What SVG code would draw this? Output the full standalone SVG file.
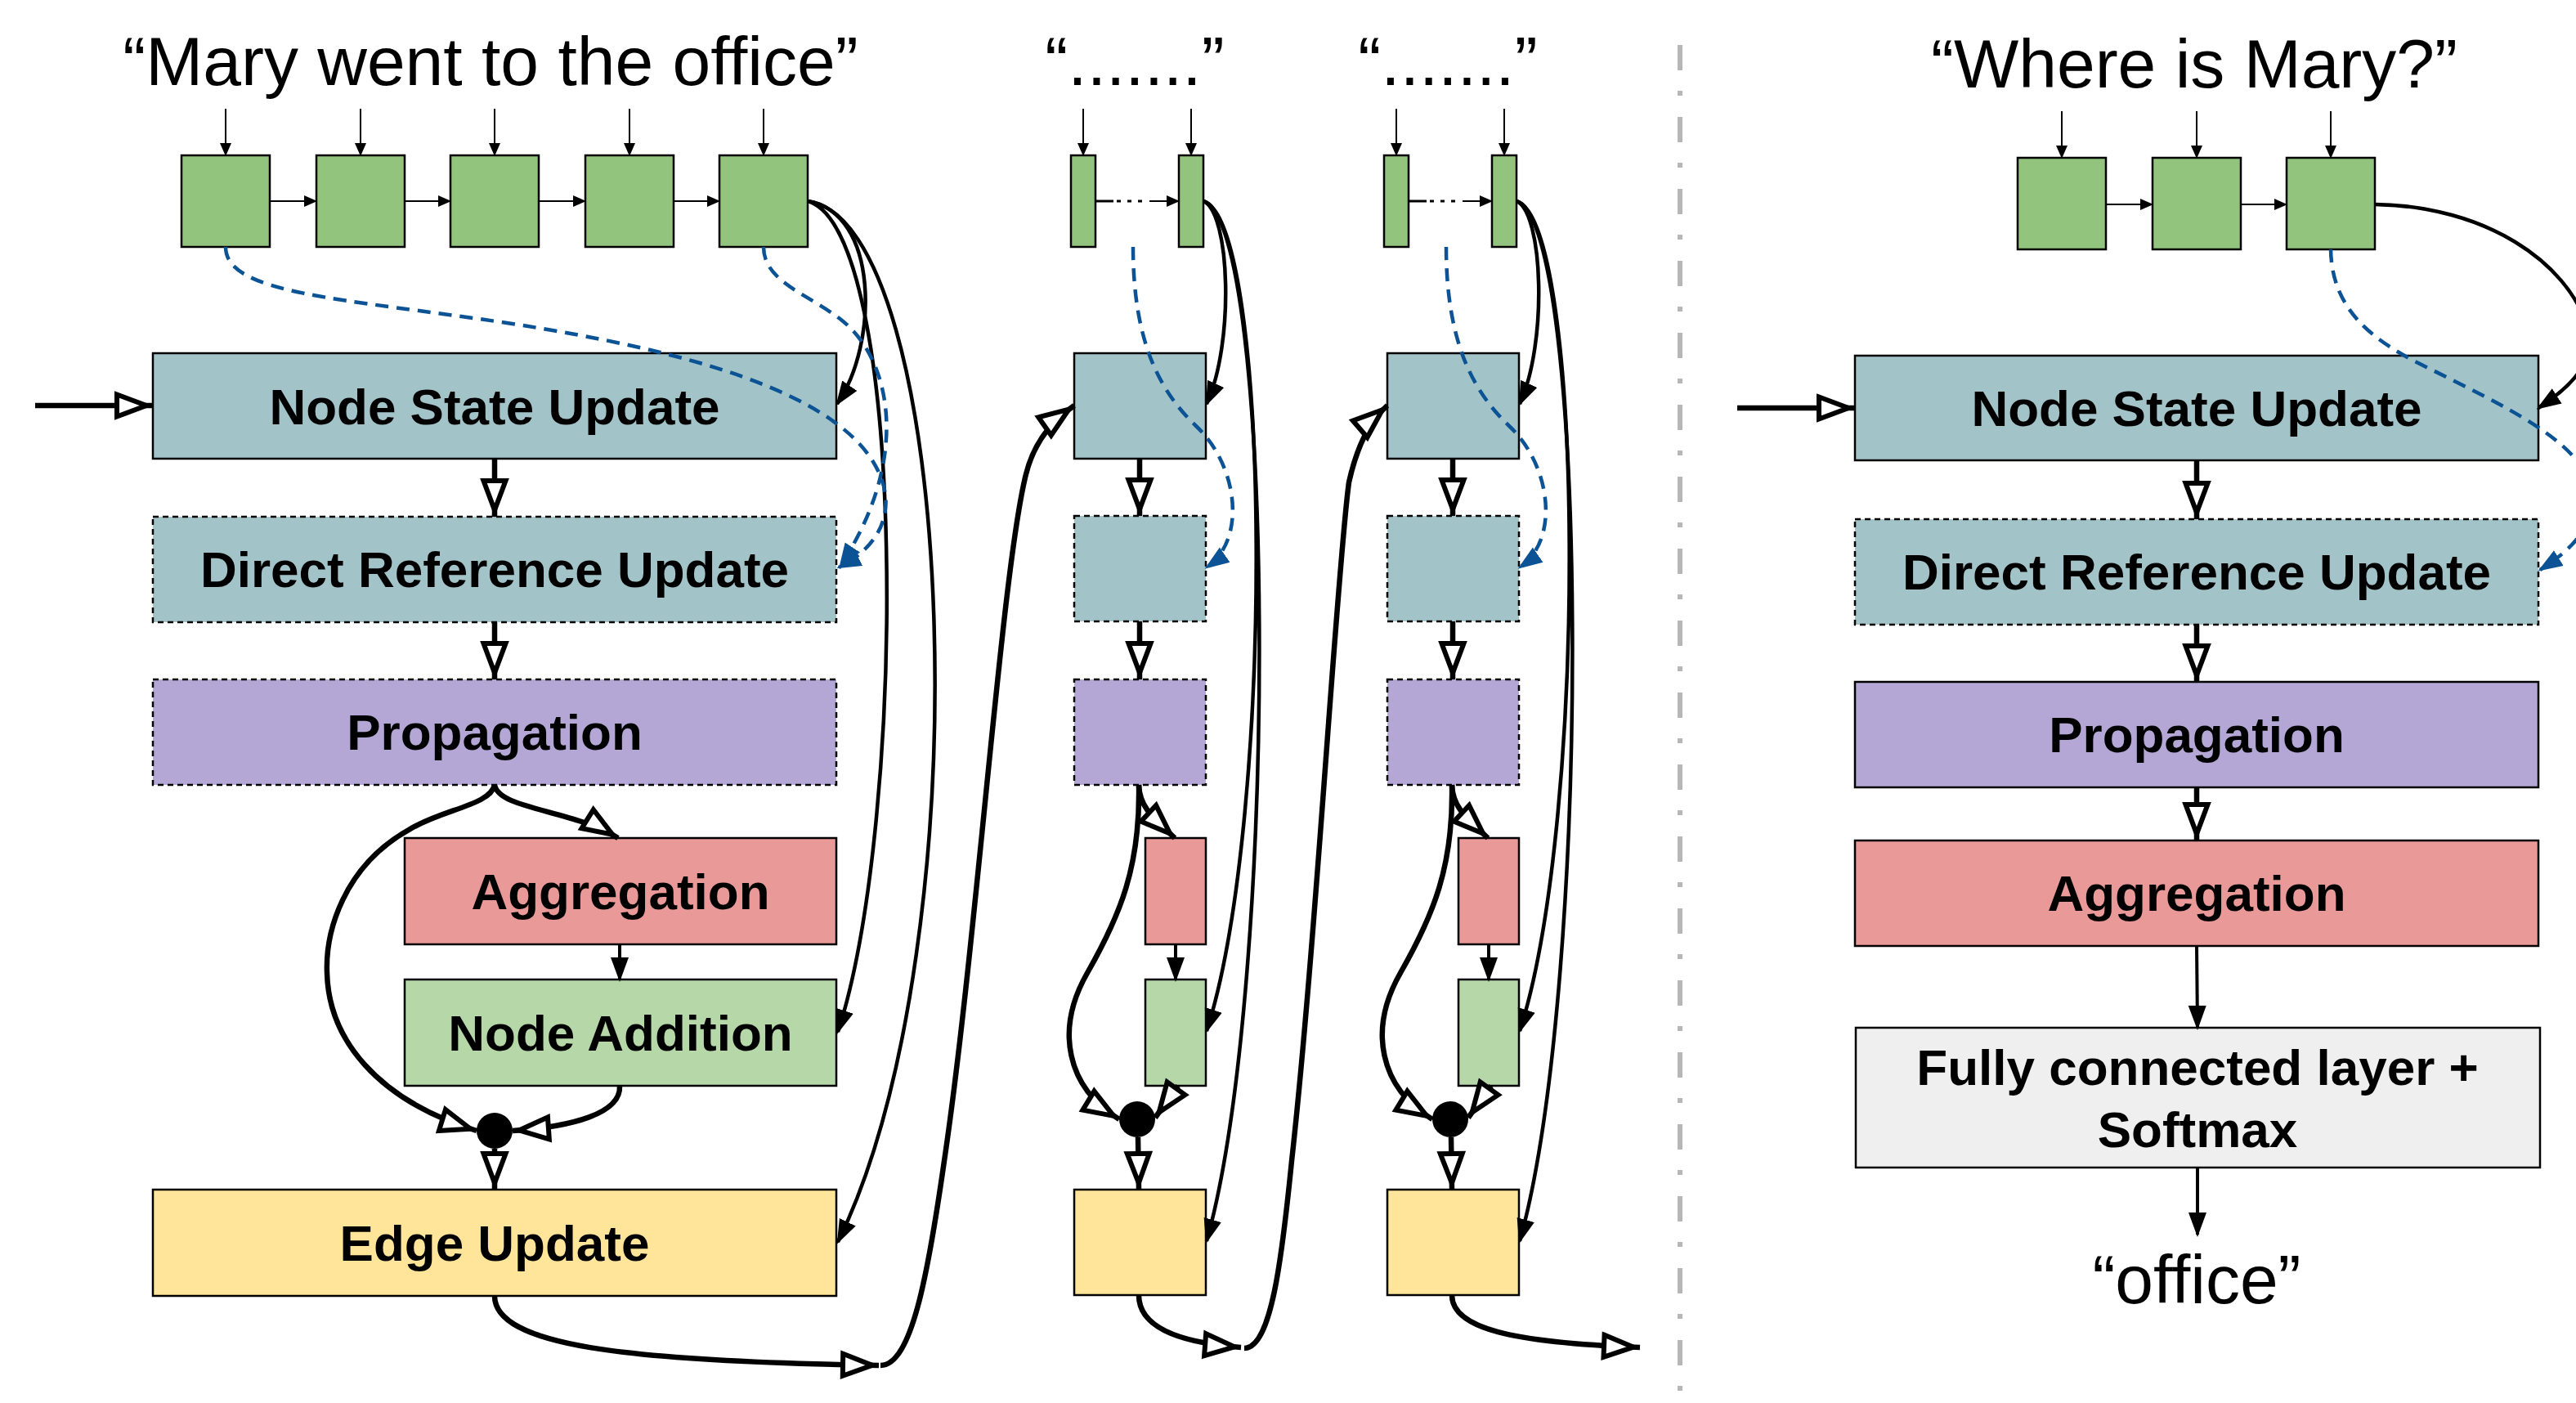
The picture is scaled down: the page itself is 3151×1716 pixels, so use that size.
<svg xmlns="http://www.w3.org/2000/svg" width="3151" height="1716" viewBox="0 0 3151 1716">
<style>
.t{font-family:"Liberation Sans",Arial,Helvetica,sans-serif;fill:#000}
.title{font-size:84px;text-anchor:middle}
.lbl{font-size:62px;font-weight:bold;text-anchor:middle}
.box{stroke:#000;stroke-width:2.5}
.dsh{stroke-dasharray:7 5}
.gw{fill:#93c47d}
.cy{fill:#a2c4c9}
.pu{fill:#b4a7d6}
.rd{fill:#ea9999}
.lg{fill:#b6d7a8}
.ye{fill:#ffe599}
.gr{fill:#efefef}
.thin{fill:none;stroke:#000;stroke-width:2}
.arr{fill:none;stroke:#000;stroke-width:4}
.med{fill:none;stroke:#000;stroke-width:4.5}
.thk{fill:none;stroke:#000;stroke-width:6.5}
.blu{fill:none;stroke:#0b5394;stroke-width:4.5;stroke-dasharray:16 10}
</style>
<defs>
<marker id="ho" markerUnits="userSpaceOnUse" viewBox="-8 -24 62 48" markerWidth="62" markerHeight="48" refX="44" refY="0" orient="auto">
<path d="M0,-13.5 L36,0 L0,13.5 Z" fill="#fff" stroke="#000" stroke-width="6"/>
</marker>
<marker id="sm" markerUnits="userSpaceOnUse" viewBox="0 -8 18 16" markerWidth="18" markerHeight="16" refX="15" refY="0" orient="auto">
<path d="M0,-7 L16,0 L0,7 Z" fill="#000"/>
</marker>
<marker id="md" markerUnits="userSpaceOnUse" viewBox="0 -12 32 24" markerWidth="32" markerHeight="24" refX="27" refY="0" orient="auto">
<path d="M0,-11 L30,0 L0,11 Z" fill="#000"/>
</marker>
<marker id="bl" markerUnits="userSpaceOnUse" viewBox="0 -12 32 24" markerWidth="32" markerHeight="24" refX="27" refY="0" orient="auto">
<path d="M0,-11 L30,0 L0,11 Z" fill="#0b5394"/>
</marker>
</defs>
<rect x="0" y="0" width="3151" height="1716" fill="#fff"/>

<!-- divider -->
<line id="divider" x1="2055" y1="55" x2="2055" y2="1716" stroke="#b7b7b7" stroke-width="6" stroke-dasharray="31 25 6 26"/>

<!-- ===== Left column ===== -->
<text id="title-left" class="t title" x="600" y="104">“Mary went to the office”</text>
<g id="w1"><rect class="box gw" x="222" y="190" width="108" height="112"/></g>
<g id="w2"><rect class="box gw" x="387" y="190" width="108" height="112"/></g>
<g id="w3"><rect class="box gw" x="551" y="190" width="108" height="112"/></g>
<g id="w4"><rect class="box gw" x="716" y="190" width="108" height="112"/></g>
<g id="w5"><rect class="box gw" x="880" y="190" width="108" height="112"/></g>
<g id="L-nsu"><rect class="box cy" x="187" y="432" width="836" height="129"/><text class="t lbl" x="605" y="519">Node State Update</text></g>
<g id="L-dru"><rect class="box cy dsh" x="187" y="632" width="836" height="129"/><text class="t lbl" x="605" y="718">Direct Reference Update</text></g>
<g id="L-prop"><rect class="box pu dsh" x="187" y="831" width="836" height="129"/><text class="t lbl" x="605" y="917">Propagation</text></g>
<g id="L-agg"><rect class="box rd" x="495" y="1025" width="528" height="130"/><text class="t lbl" x="759" y="1112">Aggregation</text></g>
<g id="L-na"><rect class="box lg" x="495" y="1198" width="528" height="130"/><text class="t lbl" x="759" y="1285">Node Addition</text></g>
<g id="L-merge"><circle cx="605" cy="1383" r="22" fill="#000"/></g>
<g id="L-eu"><rect class="box ye" x="187" y="1455" width="836" height="130"/><text class="t lbl" x="605" y="1542">Edge Update</text></g>

<!-- ===== Middle column 1 ===== -->
<text id="title-m1" class="t title" x="1388" y="104">“.......”</text>
<g id="m1-wa"><rect class="box gw" x="1310" y="190" width="30" height="112"/></g>
<g id="m1-wb"><rect class="box gw" x="1442" y="190" width="30" height="112"/></g>
<g id="m1-nsu"><rect class="box cy" x="1314" y="432" width="161" height="129"/></g>
<g id="m1-dru"><rect class="box cy dsh" x="1314" y="631" width="161" height="129"/></g>
<g id="m1-prop"><rect class="box pu dsh" x="1314" y="831" width="161" height="129"/></g>
<g id="m1-agg"><rect class="box rd" x="1401" y="1025" width="74" height="130"/></g>
<g id="m1-na"><rect class="box lg" x="1401" y="1198" width="74" height="130"/></g>
<g id="m1-merge"><circle cx="1391" cy="1369" r="22" fill="#000"/></g>
<g id="m1-eu"><rect class="box ye" x="1314" y="1455" width="161" height="129"/></g>

<!-- ===== Middle column 2 ===== -->
<text id="title-m2" class="t title" x="1771" y="104">“.......”</text>
<g id="m2-wa"><rect class="box gw" x="1693" y="190" width="30" height="112"/></g>
<g id="m2-wb"><rect class="box gw" x="1825" y="190" width="30" height="112"/></g>
<g id="m2-nsu"><rect class="box cy" x="1697" y="432" width="161" height="129"/></g>
<g id="m2-dru"><rect class="box cy dsh" x="1697" y="631" width="161" height="129"/></g>
<g id="m2-prop"><rect class="box pu dsh" x="1697" y="831" width="161" height="129"/></g>
<g id="m2-agg"><rect class="box rd" x="1784" y="1025" width="74" height="130"/></g>
<g id="m2-na"><rect class="box lg" x="1784" y="1198" width="74" height="130"/></g>
<g id="m2-merge"><circle cx="1774" cy="1369" r="22" fill="#000"/></g>
<g id="m2-eu"><rect class="box ye" x="1697" y="1455" width="161" height="129"/></g>

<!-- ===== Right column ===== -->
<text id="title-right" class="t title" x="2684" y="107">“Where is Mary?”</text>
<g id="q1"><rect class="box gw" x="2468" y="193" width="108" height="112"/></g>
<g id="q2"><rect class="box gw" x="2633" y="193" width="108" height="112"/></g>
<g id="q3"><rect class="box gw" x="2797" y="193" width="108" height="112"/></g>
<g id="R-nsu"><rect class="box cy" x="2269" y="435" width="836" height="128"/><text class="t lbl" x="2687" y="521">Node State Update</text></g>
<g id="R-dru"><rect class="box cy dsh" x="2269" y="635" width="836" height="129"/><text class="t lbl" x="2687" y="721">Direct Reference Update</text></g>
<g id="R-prop"><rect class="box pu" x="2269" y="834" width="836" height="129"/><text class="t lbl" x="2687" y="920">Propagation</text></g>
<g id="R-agg"><rect class="box rd" x="2269" y="1028" width="836" height="129"/><text class="t lbl" x="2687" y="1114">Aggregation</text></g>
<g id="R-fc"><rect class="box gr" x="2270" y="1257" width="837" height="171"/><text class="t lbl" x="2688" y="1327">Fully connected layer +</text><text class="t lbl" x="2688" y="1403">Softmax</text></g>
<text id="answer" class="t title" x="2687" y="1594">“office”</text>

<!-- ===== Connectors ===== -->
<g id="connectors">
<!-- left: word inputs -->
<path class="thin" marker-end="url(#sm)" d="M276,133 V190"/>
<path class="thin" marker-end="url(#sm)" d="M441,133 V190"/>
<path class="thin" marker-end="url(#sm)" d="M605,133 V190"/>
<path class="thin" marker-end="url(#sm)" d="M770,133 V190"/>
<path class="thin" marker-end="url(#sm)" d="M934,133 V190"/>
<path class="thin" marker-end="url(#sm)" d="M330,246 H387"/>
<path class="thin" marker-end="url(#sm)" d="M495,246 H551"/>
<path class="thin" marker-end="url(#sm)" d="M659,246 H716"/>
<path class="thin" marker-end="url(#sm)" d="M824,246 H880"/>
<!-- left: pipeline -->
<path class="thk" marker-end="url(#ho)" d="M43,496 H187"/>
<path class="thk" marker-end="url(#ho)" d="M605,561 V632"/>
<path class="thk" marker-end="url(#ho)" d="M605,761 V831"/>
<path class="thk" marker-end="url(#ho)" d="M605,960 C610,990 700,990 756,1025"/>
<path class="thk" marker-end="url(#ho)" d="M605,960 C600,985 540,990 500,1015 C420,1060 398,1140 400,1190 C402,1270 460,1345 583,1383"/>
<path class="arr" marker-end="url(#md)" d="M758,1155 V1198"/>
<path class="thk" marker-end="url(#ho)" d="M758,1328 C760,1362 700,1378 627,1383"/>
<path class="thk" marker-end="url(#ho)" d="M605,1405 V1455"/>
<path class="thk" marker-end="url(#ho)" d="M605,1585 C605,1645 760,1665 1075,1670"/>
<path class="thk" marker-end="url(#ho)" d="M1077,1670 C1115,1670 1135,1560 1155,1420 C1195,1150 1225,700 1255,580 C1265,540 1287,515 1314,496"/>
<path class="med" marker-end="url(#md)" d="M988,246 C1075,260 1075,420 1024,494"/>
<path class="med" marker-end="url(#md)" d="M988,246 C1110,280 1110,1000 1025,1262"/>
<path class="med" marker-end="url(#md)" d="M988,246 C1170,270 1205,1150 1025,1519"/>
<path class="blu" marker-end="url(#bl)" d="M276,302 C276,360 420,365 620,395 C850,430 1010,480 1065,560 C1105,620 1075,670 1026,694"/>
<path class="blu" marker-end="url(#bl)" d="M934,302 C934,345 990,360 1030,392 C1090,440 1115,560 1028,692"/>

<!-- middle 1 -->
<path class="thin" marker-end="url(#sm)" d="M1325,133 V190"/>
<path class="thin" marker-end="url(#sm)" d="M1457,133 V190"/>
<path fill="none" stroke="#000" stroke-width="3" d="M1340,246 H1362 M1366,246 H1371 M1379,246 H1384 M1392,246 H1397"/>
<path class="thin" marker-end="url(#sm)" d="M1406,246 H1442"/>
<path class="thk" marker-end="url(#ho)" d="M1394,561 V631"/>
<path class="thk" marker-end="url(#ho)" d="M1394,760 V831"/>
<path class="thk" marker-end="url(#ho)" d="M1393,960 C1394,985 1405,995 1437,1025"/>
<path class="thk" marker-end="url(#ho)" d="M1393,960 C1395,1060 1370,1120 1330,1190 C1290,1260 1305,1330 1369,1369"/>
<path class="arr" marker-end="url(#md)" d="M1438,1155 V1198"/>
<path class="thk" marker-end="url(#ho)" d="M1441,1328 L1413,1367"/>
<path class="thk" marker-end="url(#ho)" d="M1392,1391 L1393,1455"/>
<path class="thk" marker-end="url(#ho)" d="M1393,1584 C1393,1622 1440,1642 1518,1648"/>
<path class="thk" marker-end="url(#ho)" d="M1522,1649 C1555,1649 1568,1540 1580,1420 C1610,1150 1635,700 1650,590 C1660,545 1675,515 1697,496"/>
<path class="med" marker-end="url(#md)" d="M1472,246 C1505,260 1510,420 1476,494"/>
<path class="med" marker-end="url(#md)" d="M1472,246 C1555,270 1560,1000 1476,1261"/>
<path class="med" marker-end="url(#md)" d="M1472,246 C1560,270 1565,1200 1476,1518"/>
<path class="blu" marker-end="url(#bl)" d="M1386,302 C1386,420 1420,480 1463,521 C1515,570 1525,660 1476,694"/>

<!-- middle 2 -->
<path class="thin" marker-end="url(#sm)" d="M1708,133 V190"/>
<path class="thin" marker-end="url(#sm)" d="M1840,133 V190"/>
<path fill="none" stroke="#000" stroke-width="3" d="M1723,246 H1745 M1749,246 H1754 M1762,246 H1767 M1775,246 H1780"/>
<path class="thin" marker-end="url(#sm)" d="M1789,246 H1825"/>
<path class="thk" marker-end="url(#ho)" d="M1777,561 V631"/>
<path class="thk" marker-end="url(#ho)" d="M1777,760 V831"/>
<path class="thk" marker-end="url(#ho)" d="M1776,960 C1777,985 1788,995 1820,1025"/>
<path class="thk" marker-end="url(#ho)" d="M1776,960 C1778,1060 1753,1120 1713,1190 C1673,1260 1688,1330 1752,1369"/>
<path class="arr" marker-end="url(#md)" d="M1821,1155 V1198"/>
<path class="thk" marker-end="url(#ho)" d="M1824,1328 L1796,1367"/>
<path class="thk" marker-end="url(#ho)" d="M1775,1391 L1776,1455"/>
<path class="thk" marker-end="url(#ho)" d="M1776,1584 C1776,1625 1850,1642 2006,1648"/>
<path class="med" marker-end="url(#md)" d="M1855,246 C1888,260 1893,420 1859,494"/>
<path class="med" marker-end="url(#md)" d="M1855,246 C1938,270 1943,1000 1859,1261"/>
<path class="med" marker-end="url(#md)" d="M1855,246 C1943,270 1948,1200 1859,1518"/>
<path class="blu" marker-end="url(#bl)" d="M1769,302 C1769,420 1803,480 1846,521 C1898,570 1908,660 1859,694"/>

<!-- right column -->
<path class="thin" marker-end="url(#sm)" d="M2522,136 V193"/>
<path class="thin" marker-end="url(#sm)" d="M2687,136 V193"/>
<path class="thin" marker-end="url(#sm)" d="M2851,136 V193"/>
<path class="thin" marker-end="url(#sm)" d="M2576,250 H2633"/>
<path class="thin" marker-end="url(#sm)" d="M2741,250 H2797"/>
<path class="thk" marker-end="url(#ho)" d="M2125,499 H2269"/>
<path class="thk" marker-end="url(#ho)" d="M2687,563 V635"/>
<path class="thk" marker-end="url(#ho)" d="M2687,764 V834"/>
<path class="thk" marker-end="url(#ho)" d="M2687,963 V1028"/>
<path class="arr" marker-end="url(#md)" d="M2687,1157 L2688,1257"/>
<path class="arr" marker-end="url(#md)" d="M2688,1428 V1510"/>
<path class="med" marker-end="url(#md)" d="M2905,250 C3040,252 3140,320 3165,400 C3175,440 3150,470 3105,499"/>
<path class="blu" marker-end="url(#bl)" d="M2851,305 C2852,370 2890,410 2960,445 C3060,495 3160,540 3170,600 C3175,640 3150,670 3107,697"/>
</g>
</svg>
